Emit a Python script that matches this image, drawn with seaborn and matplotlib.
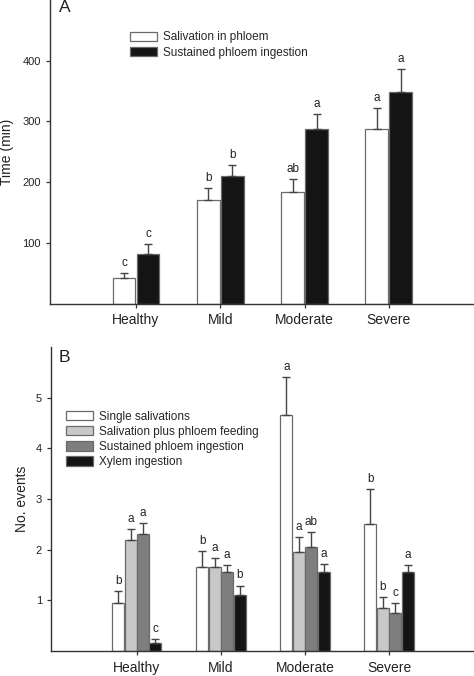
import numpy as np
import pandas as pd
import matplotlib
matplotlib.use("Agg")
import matplotlib.pyplot as plt
import seaborn as sns

sns.set_style("ticks")
plt.rcParams['font.family'] = ['Liberation Sans', 'DejaVu Sans']

categories = ["Healthy", "Mild", "Moderate", "Severe"]

# Panel A
a_series = ["Salivation in phloem", "Sustained phloem ingestion"]
a_salivation = [42.5, 170, 183, 287]
a_sustained = [81.5, 210.5, 288, 348.5]
a_salivation_err = [8, 20, 22, 34.5]
a_sustained_err = [16.5, 17.5, 24, 37.5]
a_salivation_letters = ["c", "b", "ab", "a"]
a_sustained_letters = ["c", "b", "a", "a"]

# Panel B
b_series = ["Single salivations", "Salivation plus phloem feeding",
            "Sustained phloem ingestion", "Xylem ingestion"]
b_single = [0.95, 1.65, 4.65, 2.5]
b_salplus = [2.2, 1.65, 1.95, 0.85]
b_sustained = [2.3, 1.55, 2.05, 0.75]
b_xylem = [0.15, 1.1, 1.55, 1.55]
b_single_err = [0.23, 0.32, 0.76, 0.69]
b_salplus_err = [0.21, 0.18, 0.29, 0.22]
b_sustained_err = [0.23, 0.15, 0.29, 0.19]
b_xylem_err = [0.09, 0.19, 0.17, 0.15]
b_single_letters = ["b", "b", "a", "b"]
b_salplus_letters = ["a", "a", "a", "b"]
b_sustained_letters = ["a", "a", "ab", "c"]
b_xylem_letters = ["c", "b", "a", "a"]

fig = plt.figure(figsize=(4.74, 6.76), dpi=100)
axA = fig.add_axes([0.1055, 0.551, 0.8945, 0.449])
axB = fig.add_axes([0.1076, 0.037, 0.8924, 0.4497])

spine_col = "#333333"
err_col = "#444444"


def draw_panel(ax, series, values, errs, letters, colors, width, gap, ylim, yticks):
    rows = []
    for s, vals in zip(series, values):
        for c, v in zip(categories, vals):
            rows.append({"cat": c, "series": s, "val": v})
    df = pd.DataFrame(rows)
    sns.barplot(data=df, x="cat", y="val", hue="series", order=categories,
                hue_order=series, palette=colors, width=width, gap=gap,
                errorbar=None, edgecolor="#6a6a6a", linewidth=0.9,
                saturation=1, ax=ax, legend=True)
    bars = list(ax.patches)[:len(series) * len(categories)]
    k = 0
    for si, s in enumerate(series):
        for ci in range(len(categories)):
            p = bars[k]
            k += 1
            xc = p.get_x() + p.get_width() / 2
            top = values[si][ci]
            e = errs[si][ci]
            ax.errorbar([xc], [top], yerr=[[0], [e]], fmt="none",
                        ecolor=err_col, elinewidth=1.0, capsize=3, capthick=1.0)
            ax.annotate(letters[si][ci], (xc, top + e), xytext=(0, 3),
                        textcoords="offset points", ha="center", va="bottom",
                        fontsize=8.5, color="#222222")
    ax.set_xlim(-1.02, 4.01)
    ax.set_ylim(*ylim)
    ax.set_yticks(yticks)
    ax.set_xlabel("")
    for sp in ["top", "right"]:
        ax.spines[sp].set_visible(False)
    for sp in ["left", "bottom"]:
        ax.spines[sp].set_color(spine_col)
        ax.spines[sp].set_linewidth(1.0)
    ax.tick_params(axis="both", colors=spine_col, length=3, width=0.9,
                   labelcolor="#222222")
    ax.tick_params(axis="y", labelsize=8)
    ax.tick_params(axis="x", labelsize=10, pad=4)


leg_kw = dict(loc="upper left", frameon=False, fontsize=8.5, handlelength=2.3,
              handleheight=0.85, handletextpad=0.5, labelspacing=0.27,
              borderaxespad=0)

draw_panel(axA, a_series, [a_salivation, a_sustained],
           [a_salivation_err, a_sustained_err],
           [a_salivation_letters, a_sustained_letters],
           ["#ffffff", "#141414"], 0.57, 0.05, (0, 500), [100, 200, 300, 400])
axA.set_ylabel("Time (min)", fontsize=10, color="#222222")
axA.yaxis.set_label_coords(-0.086, 0.5)
axA.legend(bbox_to_anchor=(0.177, 0.912), **leg_kw)
axA.text(0.021, 1.0, "A", transform=axA.transAxes, fontsize=12.5,
         va="top", ha="left", color="#222222")

draw_panel(axB, b_series, [b_single, b_salplus, b_sustained, b_xylem],
           [b_single_err, b_salplus_err, b_sustained_err, b_xylem_err],
           [b_single_letters, b_salplus_letters, b_sustained_letters, b_xylem_letters],
           ["#ffffff", "#c8c8c8", "#7e7e7e", "#141414"], 0.593, 0.04,
           (0, 6), [1, 2, 3, 4, 5])
axB.set_ylabel("No. events", fontsize=10, color="#222222")
axB.yaxis.set_label_coords(-0.051, 0.5)
axB.legend(bbox_to_anchor=(0.025, 0.806), **leg_kw)
axB.text(0.019, 0.99, "B", transform=axB.transAxes, fontsize=12.5,
         va="top", ha="left", color="#222222")

fig.savefig("out.png", dpi=100)
